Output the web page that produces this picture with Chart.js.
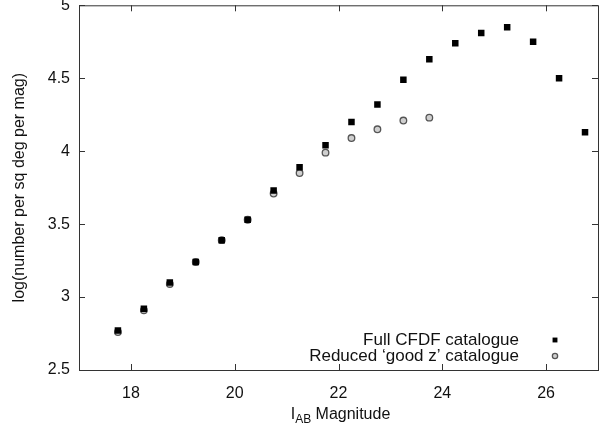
<!DOCTYPE html>
<html><head><meta charset="utf-8">
<script src="https://cdn.jsdelivr.net/npm/chart.js@4"></script>
<style>html,body{margin:0;padding:0;background:#fff}canvas{display:block}</style>
</head><body>
<canvas id="c" width="604" height="426"></canvas>
<script>
// ---- data ----
const fullMags = [17.75,18.25,18.75,19.25,19.75,20.25,20.75,21.25,21.75,22.25,22.75,23.25,23.75,24.25,24.75,25.25,25.75,26.25,26.75];
const fullCFDF = [2.77,2.92,3.10,3.24,3.39,3.53,3.73,3.89,4.04,4.20,4.32,4.49,4.63,4.74,4.81,4.85,4.75,4.50,4.13];
const reducedMags = [17.75,18.25,18.75,19.25,19.75,20.25,20.75,21.25,21.75,22.25,22.75,23.25,23.75];
const reducedGoodZ = [2.76,2.91,3.09,3.24,3.39,3.53,3.71,3.85,3.99,4.09,4.15,4.21,4.23];
const xTicks = [18,20,22,24,26];
const yTicks = [2.5,3,3.5,4,4.5,5];
const seriesNames = ['Full CFDF catalogue', 'Reduced \u2018good z\u2019 catalogue'];
const yTitle = 'log(number per sq deg per mag)';
const xTitleMain = 'I', xTitleSub = 'AB', xTitleRest = ' Magnitude';

const FONT = '"Liberation Sans", Arial, Helvetica, sans-serif';
const FS = 16;
const TXT = '#111';

const toXY = (xs, ys) => xs.map((x, i) => ({x: x, y: ys[i]}));

const framePlugin = {
  id: 'frame',
  beforeDatasetsDraw(chart) {
    const {ctx, chartArea: a, scales} = chart;
    ctx.save();
    ctx.strokeStyle = '#333';
    ctx.lineWidth = 1;
    ctx.strokeRect(a.left + 0.5, a.top + 0.5, a.right - a.left, a.bottom - a.top);
    const L = 6;
    ctx.beginPath();
    xTicks.forEach(v => {
      const px = Math.round(scales.x.getPixelForValue(v)) + 0.5;
      ctx.moveTo(px, a.bottom); ctx.lineTo(px, a.bottom - L);
      ctx.moveTo(px, a.top); ctx.lineTo(px, a.top + L);
    });
    yTicks.forEach(v => {
      const py = Math.round(scales.y.getPixelForValue(v)) + 0.5;
      ctx.moveTo(a.left, py); ctx.lineTo(a.left + L, py);
      ctx.moveTo(a.right, py); ctx.lineTo(a.right - L, py);
    });
    ctx.stroke();
    ctx.restore();
  },
  afterDraw(chart) {
    const {ctx, chartArea: a} = chart;
    ctx.save();
    ctx.fillStyle = TXT;
    // y title
    ctx.save();
    ctx.translate(20, (a.top + a.bottom) / 2);
    ctx.rotate(-Math.PI / 2);
    ctx.font = FS + 'px ' + FONT;
    ctx.textAlign = 'center';
    ctx.textBaseline = 'middle';
    ctx.fillText(yTitle, 0, 0);
    ctx.restore();
    // x title with subscript
    const big = FS + 'px ' + FONT, small = Math.round(FS * 0.72) + 'px ' + FONT;
    ctx.font = big; const w1 = ctx.measureText(xTitleMain).width;
    ctx.font = small; const w2 = ctx.measureText(xTitleSub).width;
    ctx.font = big; const w3 = ctx.measureText(xTitleRest).width;
    const total = w1 + w2 + w3;
    let x0 = (a.left + a.right) / 2 - total / 2 + 2;
    const base = 419;
    ctx.textBaseline = 'alphabetic';
    ctx.textAlign = 'left';
    ctx.font = big; ctx.fillText(xTitleMain, x0, base);
    ctx.font = small; ctx.fillText(xTitleSub, x0 + w1, base + 4);
    ctx.font = big; ctx.fillText(xTitleRest, x0 + w1 + w2, base);
    // legend
    ctx.font = '17px ' + FONT;
    ctx.textAlign = 'right';
    ctx.textBaseline = 'middle';
    const rows = [340, 356];
    chart.data.datasets.forEach((ds, i) => {
      ctx.fillStyle = TXT;
      ctx.fillText(ds.label, 519, rows[i]);
      ctx.fillStyle = ds.backgroundColor;
      ctx.strokeStyle = ds.borderColor;
      ctx.lineWidth = ds.borderWidth;
      ctx.beginPath();
      if (ds.pointStyle === 'rect') {
        const s = ds.pointRadius * 0.75 * Math.SQRT1_2;
        ctx.rect(555 - s, rows[i] - s, 2 * s, 2 * s);
      } else {
        ctx.arc(555, rows[i], ds.pointRadius * 0.8, 0, Math.PI * 2);
      }
      ctx.fill();
      if (ds.borderWidth) ctx.stroke();
    });
    ctx.restore();
  }
};

new Chart(document.getElementById('c'), {
  type: 'scatter',
  data: {
    datasets: [
      {
        label: seriesNames[0],
        data: toXY(fullMags, fullCFDF),
        pointStyle: 'rect',
        pointRadius: 4.6,
        backgroundColor: '#000',
        borderColor: '#000',
        borderWidth: 0,
        order: 0
      },
      {
        label: seriesNames[1],
        data: toXY(reducedMags, reducedGoodZ),
        pointStyle: 'circle',
        pointRadius: 3.3,
        backgroundColor: '#cfcfcf',
        borderColor: '#555',
        borderWidth: 1.3,
        order: 1
      }
    ]
  },
  options: {
    responsive: false,
    animation: false,
    events: [],
    layout: {padding: {left: 0, right: 6, top: 4, bottom: 0}},
    plugins: {legend: {display: false}, tooltip: {enabled: false}},
    scales: {
      x: {
        type: 'linear',
        min: 17, max: 27,
        grid: {display: false, drawTicks: false},
        border: {display: false},
        afterBuildTicks: ax => { ax.ticks = xTicks.map(v => ({value: v})); },
        afterFit: ax => { ax.height = 56; ax.paddingLeft = 0; ax.paddingRight = 0; },
        ticks: {
          padding: 14,
          color: TXT,
          font: {family: FONT, size: FS},
          callback: v => String(v)
        }
      },
      y: {
        type: 'linear',
        min: 2.5, max: 5,
        grid: {display: false, drawTicks: false},
        border: {display: false},
        afterBuildTicks: ax => { ax.ticks = yTicks.map(v => ({value: v})); },
        afterFit: ax => { ax.width = 79; ax.paddingTop = 0; ax.paddingBottom = 0; },
        ticks: {
          padding: 9,
          color: TXT,
          font: {family: FONT, size: FS},
          callback: v => String(v)
        }
      }
    }
  },
  plugins: [framePlugin]
});
</script>
</body></html>
